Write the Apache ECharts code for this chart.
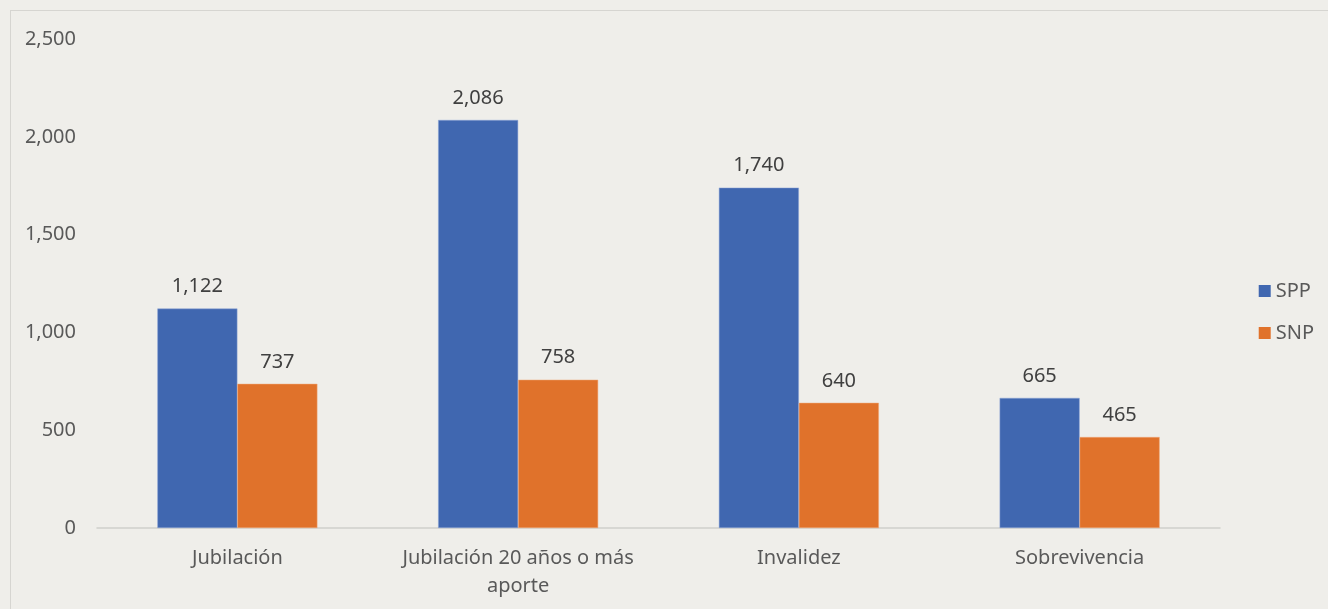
<!DOCTYPE html>
<html><head><meta charset="utf-8">
<script src="https://cdn.jsdelivr.net/npm/echarts@6/dist/echarts.min.js"></script>
<style>html,body{margin:0;padding:0;background:#EFEEEA;}#c{width:1328px;height:609px;}
#frame{position:absolute;left:10px;top:10px;width:1340px;height:620px;border:1px solid #D6D5D1;pointer-events:none;}</style>
</head><body><div id="c"></div><div id="frame"></div>
<script>
const categories = ['Jubilación', 'Jubilación 20 años o más\naporte', 'Invalidez', 'Sobrevivencia'];
const sppValues = [1122, 2086, 1740, 665];
const snpValues = [737, 758, 640, 465];
const seriesNames = ['SPP', 'SNP'];
const chart = echarts.init(document.getElementById('c'));
const FONT = 'Noto Sans';
const lbl = {show:true, position:'top', distance:12, color:'#404040', fontSize:20, fontFamily:FONT,
  formatter: p => p.value.toLocaleString('en-US')};
chart.setOption({
  backgroundColor:'#EFEEEA',
  animation:false,
  grid:{left:97, right:108, top:39, bottom:81},
  legend:{orient:'vertical', right:14, top:281, padding:0, itemWidth:12, itemHeight:12, itemGap:22, icon:'rect',
    itemStyle:{borderWidth:0},
    textStyle:{color:'#595959', fontSize:20, fontFamily:FONT}, data:seriesNames},
  xAxis:{type:'category', data:categories,
    axisLine:{lineStyle:{color:'#D0CFCB', width:1.5}}, axisTick:{show:false},
    axisLabel:{interval:0, hideOverlap:false, color:'#595959', fontSize:20, fontFamily:FONT, margin:16, lineHeight:28}},
  yAxis:{type:'value', min:0, max:2500, interval:500,
    axisLine:{show:false}, axisTick:{show:false}, splitLine:{show:false},
    axisLabel:{color:'#595959', fontSize:20, fontFamily:FONT, margin:21,
      formatter: v => v.toLocaleString('en-US')}},
  series:[
    {name:seriesNames[0], type:'bar', data:sppValues, barWidth:80, barGap:'0%',
     itemStyle:{color:'#4067B0', borderColor:'#8FA7D6', borderWidth:0.5}, label:lbl},
    {name:seriesNames[1], type:'bar', data:snpValues, barWidth:80,
     itemStyle:{color:'#E0722B', borderColor:'#F0A878', borderWidth:0.5}, label:lbl}
  ]
});
</script></body></html>
